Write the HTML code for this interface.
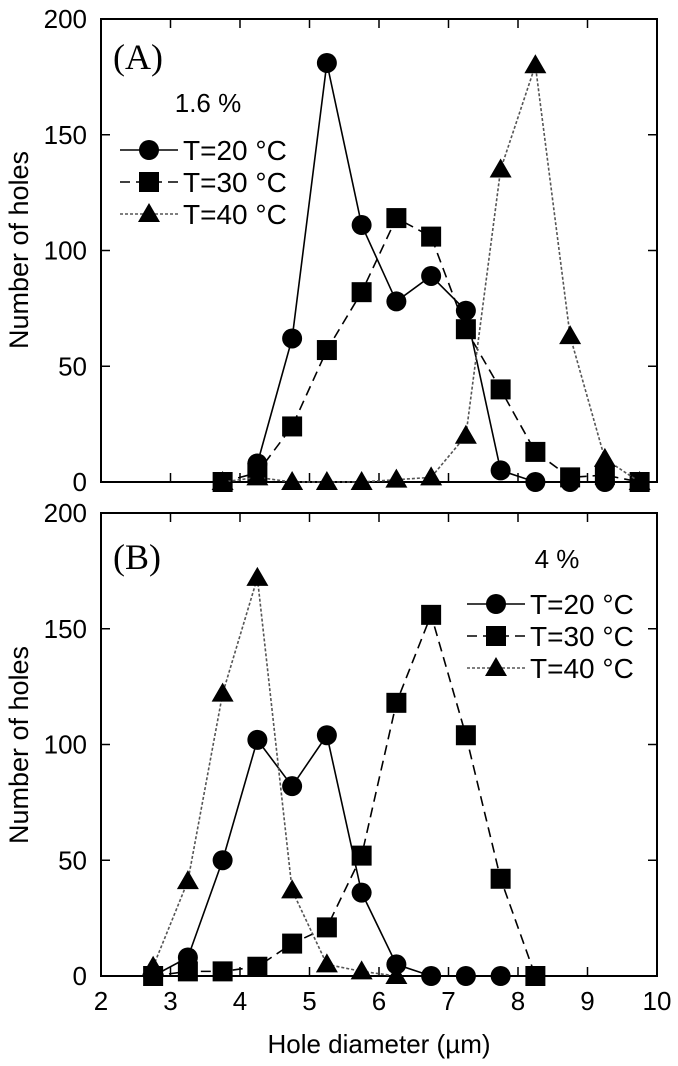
<!DOCTYPE html>
<html><head><meta charset="utf-8"><style>
body{margin:0;background:#fff;}
svg{display:block;font-family:"Liberation Sans",sans-serif;}
</style></head><body>
<svg id="chart" width="678" height="1066" viewBox="0 0 678 1066"></svg>
<script>
const xTicks=[2,3,4,5,6,7,8,9,10];
const yTicks=[0,50,100,150,200];
const seriesNames=["T=20 °C","T=30 °C","T=40 °C"];
const aX20=[4.25,4.75,5.25,5.75,6.25,6.75,7.25,7.75,8.25,8.75,9.25];
const aY20=[8,62,181,111,78,89,74,5,0,0,0];
const aX30=[3.75,4.25,4.75,5.25,5.75,6.25,6.75,7.25,7.75,8.25,8.75,9.25,9.75];
const aY30=[0,4,24,57,82,114,106,66,40,13,2,3,0];
const aX40=[3.75,4.25,4.75,5.25,5.75,6.25,6.75,7.25,7.75,8.25,8.75,9.25,9.75];
const aY40=[0,2,0,0,0,1,2,20,135,180,63,10,0];
const bX20=[2.75,3.25,3.75,4.25,4.75,5.25,5.75,6.25,6.75,7.25,7.75];
const bY20=[0,8,50,102,82,104,36,5,0,0,0];
const bX30=[2.75,3.25,3.75,4.25,4.75,5.25,5.75,6.25,6.75,7.25,7.75,8.25];
const bY30=[0,2,2,4,14,21,52,118,156,104,42,0];
const bX40=[2.75,3.25,3.75,4.25,4.75,5.25,5.75,6.25];
const bY40=[4,41,122,172,37,5,2,0];

const NS="http://www.w3.org/2000/svg";
const svg=document.getElementById('chart');
function mk(tag,attrs,parent){const e=document.createElementNS(NS,tag);for(const k in attrs)e.setAttribute(k,attrs[k]);(parent||svg).appendChild(e);return e;}
const L=101,R=657;
const xs=v=>L+(v-2)*(R-L)/8;
const styles=[{dash:"",color:"#000"},{dash:"10 6",color:"#000"},{dash:"3 2",color:"#555"}];
function marker(type,x,y,g){
  let m;
  if(type===0){m=mk('circle',{cx:x,cy:y,r:10,fill:'#000'},g);}
  else if(type===1){m=mk('rect',{x:x-10,y:y-10,width:20,height:20,fill:'#000'},g);}
  else {m=mk('polygon',{points:`${x},${y-11} ${x-11},${y+8} ${x+11},${y+8}`,fill:'#000'},g);}
  return m;
}
function panel(id,top,bottom,data,label,labelDy,pct,pctX,pctY,legX,legY,showX){
  const ys=v=>bottom-v*(bottom-top)/200;
  const g=mk('g',{});
  
  
  const frame=mk('rect',{x:L,y:top,width:R-L,height:bottom-top,fill:'none',stroke:'#000','stroke-width':2},g);
  
  
  xTicks.forEach(t=>{
    mk('line',{x1:xs(t),x2:xs(t),y1:bottom,y2:bottom-9,stroke:'#000','stroke-width':1.5},g);
    mk('line',{x1:xs(t),x2:xs(t),y1:top,y2:top+9,stroke:'#000','stroke-width':1.5},g);
    if(showX){const tx=mk('text',{x:xs(t),y:bottom+34,'font-size':26,'text-anchor':'middle'},g);tx.textContent=t;
      
      }
  });
  yTicks.forEach(t=>{
    mk('line',{x1:L,x2:L+9,y1:ys(t),y2:ys(t),stroke:'#000','stroke-width':1.5},g);
    mk('line',{x1:R,x2:R-9,y1:ys(t),y2:ys(t),stroke:'#000','stroke-width':1.5},g);
    const tx=mk('text',{x:87,y:ys(t)+9,'font-size':26,'text-anchor':'end'},g);tx.textContent=t;
    
    
  });
  data.forEach((s,i)=>{
    const pts=s[0].map((x,j)=>xs(x)+','+ys(s[1][j])).join(' ');
    const pl=mk('polyline',{points:pts,fill:'none',stroke:styles[i].color,'stroke-width':1.6,'stroke-dasharray':styles[i].dash},g);
    
    
    s[0].forEach((x,j)=>{const m=marker(i,xs(x),ys(s[1][j]),g);
      
      });
  });
  const lb=mk('text',{x:113,y:top+labelDy,'font-size':36,'font-family':'Liberation Serif, serif'},g);lb.textContent=label;
  
  
  const pc=mk('text',{x:pctX,y:pctY,'font-size':26,'text-anchor':'middle'},g);pc.textContent=pct;
  
  
  seriesNames.forEach((n,i)=>{
    const y=legY+i*32;
    const lg=mk('g',{},g);
    
    
    mk('line',{x1:legX,x2:legX+58,y1:y,y2:y,stroke:styles[i].color,'stroke-width':1.6,'stroke-dasharray':styles[i].dash},lg);
    marker(i,legX+29,y,lg);
    const t=mk('text',{x:legX+63,y:y+10,'font-size':28},lg);t.textContent=n;
  });
}
panel('a',19,482,[[aX20,aY20],[aX30,aY30],[aX40,aY40]],'(A)',50,'1.6 %',208,112,120,150,false);
panel('b',513,976,[[bX20,bY20],[bX30,bY30],[bX40,bY40]],'(B)',56,'4 %',557,568,467,604,true);
const yt1=mk('text',{x:0,y:0,'font-size':27,'text-anchor':'middle',transform:'translate(28,250) rotate(-90)'});yt1.textContent='Number of holes';


const yt2=mk('text',{x:0,y:0,'font-size':27,'text-anchor':'middle',transform:'translate(28,745) rotate(-90)'});yt2.textContent='Number of holes';


const xt=mk('text',{x:379,y:1053,'font-size':26,'text-anchor':'middle'});xt.textContent='Hole diameter (µm)';


</script>
</body></html>
